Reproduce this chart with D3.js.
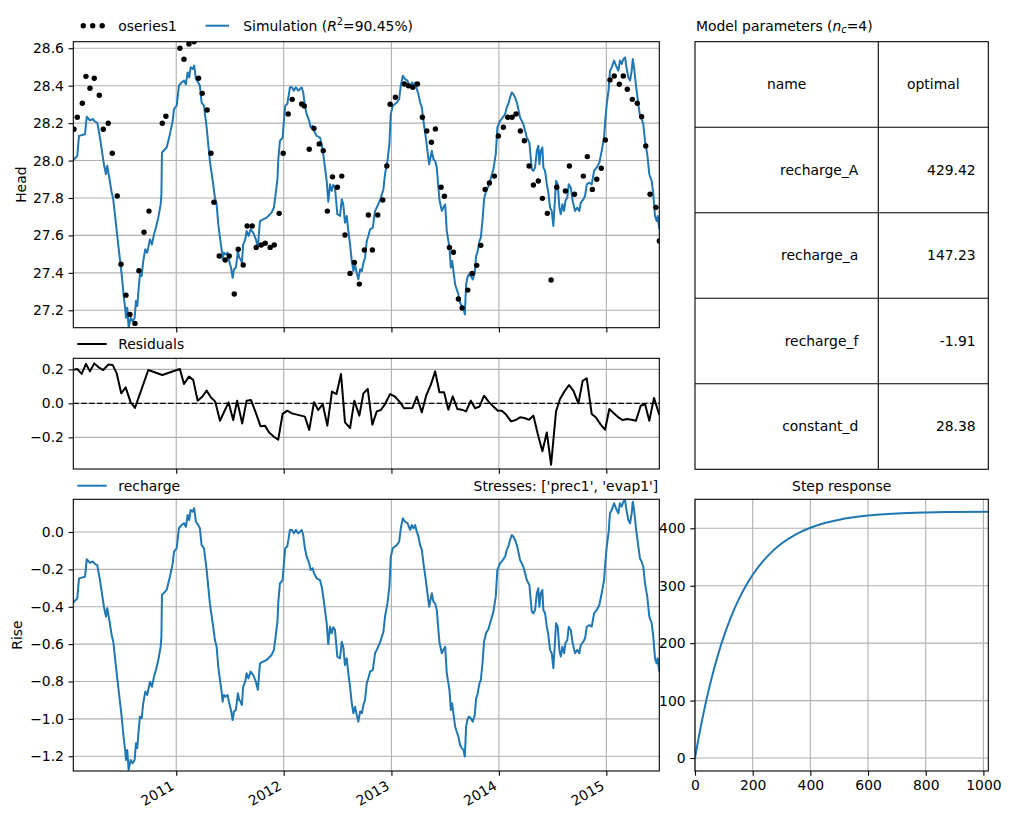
<!DOCTYPE html>
<html lang="en">
<head>
<meta charset="UTF-8">
<title>Pastas model results</title>
<script src="https://d3js.org/d3.v7.min.js"></script>
<style>
  body { margin: 0; background: #fff; }
  svg { display: block; font-family: 'DejaVu Sans', sans-serif; }
</style>
</head>
<body>
<div id="chart"></div>
<script>
// ---- data ----
const constantD = 28.38;

// observed heads [decimal year, head]
const observations = [
  [2010.048,28.167],[2010.079,28.231],[2010.126,28.306],[2010.160,28.450],[2010.197,28.386],[2010.237,28.440],
  [2010.284,28.349],[2010.321,28.167],[2010.367,28.199],[2010.405,28.039],[2010.451,27.811],[2010.486,27.446],
  [2010.532,27.281],[2010.569,27.178],[2010.616,27.130],[2010.653,27.411],[2010.700,27.617],[2010.746,27.730],
  [2010.870,28.199],[2010.904,28.237],[2011.034,28.600],[2011.072,28.541],[2011.118,28.623],[2011.165,28.635],
  [2011.208,28.440],[2011.242,28.359],[2011.288,28.270],[2011.323,28.039],[2011.351,27.777],[2011.400,27.490],
  [2011.456,27.469],[2011.493,27.490],[2011.540,27.287],[2011.577,27.526],[2011.623,27.442],[2011.660,27.650],
  [2011.707,27.650],[2011.744,27.536],[2011.791,27.549],[2011.828,27.558],[2011.874,27.536],[2011.912,27.549],
  [2011.958,27.718],[2011.995,28.039],[2012.042,28.249],[2012.079,28.327],[2012.167,28.302],[2012.191,28.292],
  [2012.237,28.060],[2012.281,28.172],[2012.330,28.089],[2012.367,28.053],[2012.405,27.730],[2012.453,27.913],
  [2012.498,27.857],[2012.539,27.917],[2012.569,27.602],[2012.616,27.397],[2012.656,27.456],[2012.702,27.340],
  [2012.749,27.522],[2012.786,27.709],[2012.823,27.522],[2012.873,27.709],[2012.920,27.789],[2012.957,27.971],
  [2012.988,28.301],[2013.037,28.338],[2013.121,28.409],[2013.158,28.399],[2013.199,28.392],[2013.242,28.409],
  [2013.288,28.231],[2013.329,28.158],[2013.372,28.098],[2013.409,28.169],[2013.462,27.857],[2013.493,27.809],
  [2013.540,27.536],[2013.577,27.510],[2013.623,27.260],[2013.658,27.212],[2013.711,27.308],[2013.751,27.397],
  [2013.794,27.440],[2013.832,27.547],[2013.872,27.846],[2013.912,27.880],[2013.958,27.917],[2013.995,28.131],
  [2014.042,28.178],[2014.083,28.231],[2014.123,28.231],[2014.160,28.249],[2014.200,28.158],[2014.237,28.106],
  [2014.281,27.971],[2014.321,27.869],[2014.367,27.891],[2014.405,27.798],[2014.451,27.718],[2014.486,27.362],
  [2014.539,27.857],[2014.619,27.837],[2014.656,27.971],[2014.704,27.820],[2014.786,27.917],[2014.823,28.021],
  [2014.870,27.846],[2014.911,27.900],[2014.953,27.959],[2014.991,28.110],[2015.034,28.431],[2015.074,28.452],
  [2015.121,28.408],[2015.158,28.452],[2015.195,28.381],[2015.242,28.327],[2015.288,28.306],[2015.329,28.234],
  [2015.367,28.078],[2015.407,27.820],[2015.462,27.750],[2015.493,27.570]
];

// recharge contribution [decimal year, rise]
const recharge = [
  [2010.042,-0.378],[2010.079,-0.355],[2010.095,-0.248],[2010.151,-0.239],[2010.167,-0.146],[2010.197,-0.165],
  [2010.225,-0.158],[2010.244,-0.172],[2010.265,-0.177],[2010.290,-0.257],[2010.327,-0.400],[2010.346,-0.453],
  [2010.358,-0.408],[2010.377,-0.471],[2010.399,-0.551],[2010.414,-0.587],[2010.439,-0.720],[2010.460,-0.828],
  [2010.492,-0.988],[2010.513,-1.113],[2010.526,-1.176],[2010.532,-1.220],[2010.544,-1.166],[2010.557,-1.273],
  [2010.576,-1.220],[2010.594,-1.238],[2010.613,-1.220],[2010.625,-1.131],[2010.637,-1.157],[2010.647,-1.086],
  [2010.662,-0.988],[2010.678,-0.997],[2010.693,-0.917],[2010.712,-0.854],[2010.730,-0.872],[2010.755,-0.801],
  [2010.774,-0.828],[2010.793,-0.774],[2010.811,-0.738],[2010.833,-0.685],[2010.855,-0.614],[2010.862,-0.560],
  [2010.867,-0.337],[2010.911,-0.310],[2010.941,-0.239],[2010.967,-0.168],[2010.979,-0.105],[2011.004,-0.087],
  [2011.025,0.020],[2011.050,0.037],[2011.072,0.047],[2011.090,0.028],[2011.106,0.091],[2011.121,0.064],
  [2011.134,0.118],[2011.153,0.109],[2011.167,0.127],[2011.183,0.055],[2011.205,0.037],[2011.220,0.020],
  [2011.236,-0.070],[2011.258,-0.087],[2011.283,-0.203],[2011.313,-0.382],[2011.344,-0.507],[2011.360,-0.578],
  [2011.376,-0.614],[2011.391,-0.720],[2011.407,-0.792],[2011.422,-0.854],[2011.432,-0.908],[2011.444,-0.872],
  [2011.462,-0.881],[2011.478,-0.872],[2011.493,-0.917],[2011.509,-0.952],[2011.525,-1.006],[2011.537,-0.961],
  [2011.555,-0.952],[2011.574,-0.863],[2011.586,-0.899],[2011.599,-0.908],[2011.611,-0.926],[2011.623,-0.828],
  [2011.642,-0.801],[2011.655,-0.756],[2011.673,-0.783],[2011.692,-0.747],[2011.716,-0.765],[2011.741,-0.801],
  [2011.760,-0.845],[2011.779,-0.703],[2011.809,-0.694],[2011.841,-0.685],[2011.887,-0.658],[2011.909,-0.631],
  [2011.927,-0.551],[2011.943,-0.471],[2011.949,-0.382],[2011.965,-0.275],[2011.990,-0.257],[2012.002,-0.168],
  [2012.014,-0.087],[2012.033,-0.078],[2012.046,-0.034],[2012.058,0.011],[2012.077,0.011],[2012.095,-0.007],
  [2012.113,0.011],[2012.135,-0.007],[2012.151,0.002],[2012.167,0.011],[2012.181,-0.016],[2012.197,-0.087],
  [2012.213,-0.132],[2012.237,-0.168],[2012.250,-0.203],[2012.269,-0.194],[2012.281,-0.221],[2012.306,-0.248],
  [2012.337,-0.257],[2012.353,-0.293],[2012.367,-0.346],[2012.383,-0.417],[2012.399,-0.488],[2012.414,-0.600],
  [2012.430,-0.507],[2012.446,-0.542],[2012.460,-0.510],[2012.476,-0.524],[2012.498,-0.667],[2012.523,-0.676],
  [2012.539,-0.587],[2012.553,-0.614],[2012.569,-0.712],[2012.585,-0.676],[2012.600,-0.756],[2012.616,-0.828],
  [2012.632,-0.917],[2012.647,-0.970],[2012.662,-0.935],[2012.678,-0.979],[2012.693,-1.015],[2012.709,-0.961],
  [2012.725,-0.970],[2012.740,-0.926],[2012.755,-0.899],[2012.771,-0.810],[2012.786,-0.783],[2012.802,-0.747],
  [2012.827,-0.738],[2012.848,-0.649],[2012.864,-0.631],[2012.895,-0.590],[2012.926,-0.533],[2012.941,-0.450],
  [2012.963,-0.382],[2012.981,-0.293],[2012.994,-0.132],[2013.013,-0.087],[2013.050,-0.070],[2013.072,-0.052],
  [2013.087,0.020],[2013.106,0.073],[2013.127,0.055],[2013.149,0.047],[2013.174,0.011],[2013.190,0.037],
  [2013.205,0.020],[2013.220,0.037],[2013.236,0.002],[2013.251,-0.025],[2013.267,-0.070],[2013.283,-0.096],
  [2013.298,-0.168],[2013.320,-0.257],[2013.339,-0.346],[2013.351,-0.400],[2013.360,-0.373],[2013.376,-0.328],
  [2013.391,-0.373],[2013.407,-0.382],[2013.422,-0.417],[2013.437,-0.524],[2013.447,-0.590],[2013.469,-0.649],
  [2013.484,-0.631],[2013.500,-0.614],[2013.515,-0.756],[2013.540,-0.845],[2013.553,-0.952],[2013.565,-0.917],
  [2013.577,-0.970],[2013.593,-1.042],[2013.608,-1.069],[2013.623,-1.095],[2013.639,-1.140],[2013.655,-1.157],
  [2013.670,-1.166],[2013.683,-1.202],[2013.695,-1.042],[2013.707,-1.006],[2013.720,-0.988],[2013.739,-0.997],
  [2013.757,-1.015],[2013.776,-0.979],[2013.788,-0.890],[2013.800,-0.872],[2013.819,-0.810],[2013.832,-0.792],
  [2013.850,-0.685],[2013.862,-0.587],[2013.881,-0.540],[2013.902,-0.520],[2013.925,-0.475],[2013.949,-0.426],
  [2013.971,-0.346],[2013.986,-0.203],[2014.011,-0.168],[2014.036,-0.150],[2014.058,-0.132],[2014.073,-0.096],
  [2014.088,-0.078],[2014.104,-0.043],[2014.120,-0.016],[2014.135,-0.025],[2014.151,-0.043],[2014.167,-0.070],
  [2014.181,-0.105],[2014.197,-0.150],[2014.213,-0.168],[2014.228,-0.186],[2014.260,-0.257],[2014.284,-0.284],
  [2014.306,-0.426],[2014.321,-0.435],[2014.337,-0.417],[2014.353,-0.328],[2014.367,-0.301],[2014.377,-0.400],
  [2014.390,-0.328],[2014.405,-0.310],[2014.414,-0.417],[2014.430,-0.435],[2014.446,-0.507],[2014.460,-0.550],
  [2014.476,-0.631],[2014.492,-0.649],[2014.507,-0.729],[2014.523,-0.578],[2014.532,-0.488],[2014.548,-0.507],
  [2014.563,-0.631],[2014.576,-0.667],[2014.591,-0.614],[2014.607,-0.649],[2014.619,-0.596],[2014.637,-0.578],
  [2014.650,-0.507],[2014.669,-0.524],[2014.687,-0.596],[2014.709,-0.649],[2014.730,-0.631],[2014.749,-0.649],
  [2014.762,-0.605],[2014.786,-0.587],[2014.802,-0.569],[2014.818,-0.507],[2014.842,-0.498],[2014.864,-0.507],
  [2014.886,-0.435],[2014.911,-0.417],[2014.935,-0.391],[2014.957,-0.328],[2014.979,-0.257],[2014.991,-0.159],
  [2015.004,-0.078],[2015.022,0.002],[2015.034,0.100],[2015.050,0.118],[2015.072,0.154],[2015.090,0.127],
  [2015.112,0.100],[2015.127,0.154],[2015.143,0.136],[2015.158,0.162],[2015.174,0.171],[2015.190,0.109],
  [2015.205,0.064],[2015.221,0.047],[2015.236,0.100],[2015.246,0.162],[2015.258,0.118],[2015.276,0.020],
  [2015.298,-0.078],[2015.313,-0.141],[2015.329,-0.159],[2015.344,-0.186],[2015.360,-0.275],[2015.381,-0.346],
  [2015.400,-0.453],[2015.422,-0.488],[2015.437,-0.560],[2015.453,-0.676],[2015.468,-0.703],[2015.478,-0.676],
  [2015.493,-0.747]
];

// residuals [decimal year, residual]
const residuals = [
  [2010.042,0.197],[2010.079,0.202],[2010.120,0.173],[2010.160,0.232],[2010.197,0.188],[2010.237,0.235],
  [2010.278,0.212],[2010.321,0.196],[2010.367,0.228],[2010.408,0.226],[2010.446,0.176],[2010.488,0.059],
  [2010.529,0.094],[2010.576,0.006],[2010.616,-0.027],[2010.740,0.196],[2010.870,0.167],[2011.034,0.202],
  [2011.072,0.114],[2011.118,0.157],[2011.158,0.138],[2011.199,0.016],[2011.242,0.039],[2011.283,0.075],
  [2011.323,0.035],[2011.363,0.010],[2011.407,-0.102],[2011.487,0.006],[2011.530,-0.098],[2011.567,0.016],
  [2011.614,-0.118],[2011.655,0.016],[2011.695,0.020],[2011.741,-0.056],[2011.785,-0.135],[2011.825,-0.131],
  [2011.865,-0.171],[2011.909,-0.196],[2011.949,-0.214],[2011.990,-0.062],[2012.033,-0.043],[2012.076,-0.059],
  [2012.197,-0.078],[2012.237,-0.157],[2012.281,0.006],[2012.321,-0.039],[2012.362,-0.004],[2012.405,-0.131],
  [2012.448,0.069],[2012.490,0.055],[2012.532,0.173],[2012.569,-0.112],[2012.616,-0.145],[2012.656,0.016],
  [2012.702,-0.072],[2012.740,0.059],[2012.780,0.085],[2012.823,-0.125],[2012.864,-0.047],[2012.901,-0.039],
  [2012.941,-0.004],[2012.988,0.055],[2013.034,0.039],[2013.081,0.006],[2013.118,-0.029],[2013.195,-0.027],
  [2013.236,0.039],[2013.283,-0.053],[2013.323,0.045],[2013.367,0.110],[2013.407,0.188],[2013.447,0.065],
  [2013.490,0.065],[2013.530,-0.037],[2013.571,0.041],[2013.614,-0.033],[2013.655,-0.037],[2013.695,-0.047],
  [2013.739,0.016],[2013.779,-0.029],[2013.819,-0.019],[2013.862,0.045],[2013.902,0.012],[2013.949,-0.019],
  [2013.990,-0.043],[2014.027,-0.043],[2014.067,-0.066],[2014.113,-0.106],[2014.157,-0.098],[2014.197,-0.082],
  [2014.237,-0.086],[2014.281,-0.096],[2014.321,-0.072],[2014.362,-0.180],[2014.405,-0.282],[2014.446,-0.171],
  [2014.486,-0.361],[2014.532,-0.047],[2014.569,0.026],[2014.609,0.069],[2014.653,0.108],[2014.693,0.075],
  [2014.740,0.000],[2014.780,0.133],[2014.818,0.147],[2014.864,-0.063],[2014.901,-0.082],[2014.948,-0.125],
  [2014.988,-0.155],[2015.028,-0.033],[2015.072,-0.059],[2015.112,-0.082],[2015.153,-0.098],[2015.195,-0.092],
  [2015.236,-0.096],[2015.276,-0.102],[2015.320,-0.014],[2015.360,-0.004],[2015.400,-0.102],[2015.444,0.032],
  [2015.493,-0.068]
];

// step response [days, response]
const stepDays = [0, 20, 40, 60, 80, 100, 125, 150, 175, 200, 250, 300, 350, 400, 450, 500, 600, 700, 800, 900, 1017];
const stepVals = [0, 54.5, 102.2, 143.7, 180.0, 211.7, 245.7, 274.4, 298.6, 319.0, 350.8, 373.5, 389.6, 401.0, 409.2, 415.0, 422.1, 425.7, 427.5, 428.5, 429.0];

const paramNames = ["recharge_A", "recharge_a", "recharge_f", "constant_d"];
const paramOptimal = ["429.42", "147.23", "-1.91", "28.38"];

const yearTicks = [2011, 2012, 2013, 2014, 2015];
const headTicks = [27.2, 27.4, 27.6, 27.8, 28.0, 28.2, 28.4, 28.6];
const residTicks = [-0.2, 0.0, 0.2];
const riseTicks = [-1.2, -1.0, -0.8, -0.6, -0.4, -0.2, 0.0];
const stepXTicks = [0, 200, 400, 600, 800, 1000];
const stepYTicks = [0, 100, 200, 300, 400];

// simulated head = constant + recharge contribution
const simulation = recharge.map(([t, v]) => [t, constantD + v]);

// ---- layout ----
const blue = "#1f77b4", gridCol = "#b0b0b0", fs = 13.9;
const L = 73.3, R = 659.3;

const toDate = t => {
  const y = Math.floor(t);
  const a = Date.UTC(y, 0, 1), b = Date.UTC(y + 1, 0, 1);
  return new Date(a + (t - y) * (b - a));
};

const svg = d3.select("#chart").append("svg")
  .attr("width", 1010).attr("height", 820);

const x = d3.scaleUtc()
  .domain([toDate(2010.042), toDate(2015.493)])
  .range([L, R]);

let clipCount = 0;
function panel(left, right, top, bottom, xs, ys, xTickVals, yTickVals) {
  const g = svg.append("g");
  const id = "clip" + (clipCount++);
  svg.append("clipPath").attr("id", id).append("rect")
    .attr("x", left).attr("y", top).attr("width", right - left).attr("height", bottom - top);

  const grid = g.append("g").attr("stroke", gridCol).attr("stroke-width", 1.1);
  grid.selectAll(".gx").data(xTickVals).join("line")
    .attr("x1", d => xs(d)).attr("x2", d => xs(d))
    .attr("y1", top).attr("y2", bottom);
  grid.selectAll(".gy").data(yTickVals).join("line")
    .attr("x1", left).attr("x2", right)
    .attr("y1", d => ys(d)).attr("y2", d => ys(d));

  const data = g.append("g").attr("clip-path", `url(#${id})`);
  const axes = g.append("g");
  return { g, data, axes, left, right, top, bottom };
}

function styleAxis(sel) {
  sel.attr("font-family", "DejaVu Sans").attr("font-size", fs);
  sel.select(".domain").remove();
  sel.selectAll(".tick line").attr("stroke-width", 1.1);
  sel.selectAll(".tick text").attr("fill", "#000");
}

function spines(p) {
  p.axes.append("rect")
    .attr("x", p.left).attr("y", p.top)
    .attr("width", p.right - p.left).attr("height", p.bottom - p.top)
    .attr("fill", "none").attr("stroke", "#000").attr("stroke-width", 1.1);
}

function timeAxis(p, labels) {
  const ax = d3.axisBottom(x)
    .tickValues(yearTicks.map(y => toDate(y)))
    .tickSize(4.7).tickPadding(4.7)
    .tickFormat(labels ? d3.utcFormat("%Y") : () => "");
  const a = p.axes.append("g").attr("transform", `translate(0,${p.bottom})`).call(ax).call(styleAxis);
  if (labels) {
    a.selectAll(".tick text")
      .attr("x", 0).attr("y", 0).attr("dy", 0)
      .attr("text-anchor", "end")
      .attr("transform", "translate(-1.5,17.5) rotate(-30)");
  }
}

function yAxis(p, ys, ticks, fmt) {
  p.axes.append("g").attr("transform", `translate(${p.left},0)`)
    .call(d3.axisLeft(ys).tickValues(ticks).tickSize(4.7).tickPadding(4.7).tickFormat(fmt))
    .call(styleAxis);
}

const f1 = d3.format(".1f");

// ---- head panel ----
const yHead = d3.scaleLinear().domain([27.107, 28.635]).range([327.7, 41.7]);
const pHead = panel(L, R, 41.7, 327.7, x, yHead, yearTicks.map(toDate), headTicks);
pHead.data.append("path")
  .datum(simulation)
  .attr("fill", "none").attr("stroke", blue).attr("stroke-width", 2)
  .attr("stroke-linejoin", "round")
  .attr("d", d3.line().x(d => x(toDate(d[0]))).y(d => yHead(d[1])));
pHead.data.selectAll("circle").data(observations).join("circle")
  .attr("cx", d => x(toDate(d[0]))).attr("cy", d => yHead(d[1]))
  .attr("r", 2.7).attr("fill", "#000");
spines(pHead);
timeAxis(pHead, false);
yAxis(pHead, yHead, headTicks, f1);
svg.append("text").attr("transform", "translate(25.5,184.7) rotate(-90)")
  .attr("text-anchor", "middle").attr("font-size", fs).text("Head");

// legend for head panel
const lg = svg.append("g").attr("font-size", fs);
lg.selectAll("circle").data([83.3, 92.7, 102.2]).join("circle")
  .attr("cx", d => d).attr("cy", 25.7).attr("r", 2.7).attr("fill", "#000");
lg.append("text").attr("x", 118.3).attr("y", 30.6).text("oseries1");
lg.append("line").attr("x1", 205.5).attr("x2", 229).attr("y1", 25.7).attr("y2", 25.7)
  .attr("stroke", blue).attr("stroke-width", 2);
const simLabel = lg.append("text").attr("x", 243.3).attr("y", 30.6);
simLabel.append("tspan").text("Simulation (");
simLabel.append("tspan").attr("font-style", "italic").text("R");
simLabel.append("tspan").attr("font-size", 9.8).attr("dy", -5.8).text("2");
simLabel.append("tspan").attr("dy", 5.8).text("=90.45%)");

// ---- residuals panel ----
const yRes = d3.scaleLinear().domain([-0.386, 0.265]).range([469, 358.3]);
const pRes = panel(L, R, 358.3, 469, x, yRes, yearTicks.map(toDate), residTicks);
pRes.data.append("line")
  .attr("x1", L).attr("x2", R).attr("y1", yRes(0)).attr("y2", yRes(0))
  .attr("stroke", "#000").attr("stroke-width", 1.1).attr("stroke-dasharray", "5.5,2.4");
pRes.data.append("path")
  .datum(residuals)
  .attr("fill", "none").attr("stroke", "#000").attr("stroke-width", 2)
  .attr("stroke-linejoin", "round")
  .attr("d", d3.line().x(d => x(toDate(d[0]))).y(d => yRes(d[1])));
spines(pRes);
timeAxis(pRes, false);
yAxis(pRes, yRes, residTicks, f1);
const lgRes = svg.append("g").attr("font-size", fs);
lgRes.append("line").attr("x1", 77.3).attr("x2", 106.7).attr("y1", 344).attr("y2", 344)
  .attr("stroke", "#000").attr("stroke-width", 2);
lgRes.append("text").attr("x", 118.3).attr("y", 348.8).text("Residuals");

// ---- recharge panel ----
const yRise = d3.scaleLinear().domain([-1.279, 0.175]).range([771, 499.3]);
const pRise = panel(L, R, 499.3, 771, x, yRise, yearTicks.map(toDate), riseTicks);
pRise.data.append("path")
  .datum(recharge)
  .attr("fill", "none").attr("stroke", blue).attr("stroke-width", 2)
  .attr("stroke-linejoin", "round")
  .attr("d", d3.line().x(d => x(toDate(d[0]))).y(d => yRise(d[1])));
spines(pRise);
timeAxis(pRise, true);
yAxis(pRise, yRise, riseTicks, f1);
svg.append("text").attr("transform", "translate(21.7,635) rotate(-90)")
  .attr("text-anchor", "middle").attr("font-size", fs).text("Rise");
const lgRise = svg.append("g").attr("font-size", fs);
lgRise.append("line").attr("x1", 77.3).attr("x2", 106.7).attr("y1", 485.7).attr("y2", 485.7)
  .attr("stroke", blue).attr("stroke-width", 2);
lgRise.append("text").attr("x", 118.3).attr("y", 490.5).text("recharge");
lgRise.append("text").attr("x", 658.3).attr("y", 490.5).attr("text-anchor", "end")
  .text("Stresses: ['prec1', 'evap1']");

// ---- parameter table ----
const tL = 695, tR = 988.3, tDiv = 878.3;
const rows = d3.scaleBand().domain(["header", ...paramNames]).range([41.7, 469.3]);
const tbl = svg.append("g").attr("font-size", fs);
tbl.append("text").attr("x", 696).attr("y", 30.6)
  .call(t => {
    t.append("tspan").text("Model parameters (");
    t.append("tspan").attr("font-style", "italic").text("n");
    t.append("tspan").attr("font-style", "italic").attr("font-size", 9.8).attr("dy", 2.6).text("c");
    t.append("tspan").attr("dy", -2.6).text("=4)");
  });
tbl.selectAll(".hl").data(rows.domain().slice(1)).join("line")
  .attr("x1", tL).attr("x2", tR)
  .attr("y1", d => rows(d)).attr("y2", d => rows(d))
  .attr("stroke", "#000").attr("stroke-width", 1.1);
tbl.append("line").attr("x1", tDiv).attr("x2", tDiv).attr("y1", 41.7).attr("y2", 469.3)
  .attr("stroke", "#000").attr("stroke-width", 1.1);
tbl.append("rect").attr("x", tL).attr("y", 41.7).attr("width", tR - tL).attr("height", 469.3 - 41.7)
  .attr("fill", "none").attr("stroke", "#000").attr("stroke-width", 1.1);
const rowMid = d => rows(d) + rows.bandwidth() / 2;
tbl.append("text").attr("x", (tL + tDiv) / 2).attr("y", rowMid("header")).attr("dy", "0.35em")
  .attr("text-anchor", "middle").text("name");
tbl.append("text").attr("x", (tDiv + tR) / 2).attr("y", rowMid("header")).attr("dy", "0.35em")
  .attr("text-anchor", "middle").text("optimal");
tbl.selectAll(".pn").data(paramNames).join("text")
  .attr("x", tDiv - 20).attr("y", d => rowMid(d)).attr("dy", "0.35em")
  .attr("text-anchor", "end").text(d => d);
tbl.selectAll(".pv").data(paramNames.map((n, i) => [n, paramOptimal[i]])).join("text")
  .attr("x", tR - 12.6).attr("y", d => rowMid(d[0])).attr("dy", "0.35em")
  .attr("text-anchor", "end").text(d => d[1]);

// ---- step response ----
const xs = d3.scaleLinear().domain([0, 1017]).range([695, 988.3]);
const ys = d3.scaleLinear().domain([-22.6, 450.5]).range([771, 499.3]);
const pStep = panel(695, 988.3, 499.3, 771, xs, ys, stepXTicks, stepYTicks);
pStep.data.append("path")
  .datum(stepDays.map((t, i) => [t, stepVals[i]]))
  .attr("fill", "none").attr("stroke", blue).attr("stroke-width", 2)
  .attr("d", d3.line().curve(d3.curveMonotoneX).x(d => xs(d[0])).y(d => ys(d[1])));
spines(pStep);
pStep.axes.append("g").attr("transform", "translate(0,771)")
  .call(d3.axisBottom(xs).tickValues(stepXTicks).tickSize(4.7).tickPadding(4.7).tickFormat(d3.format("d")))
  .call(styleAxis);
pStep.axes.append("g").attr("transform", "translate(695,0)")
  .call(d3.axisLeft(ys).tickValues(stepYTicks).tickSize(4.7).tickPadding(4.7).tickFormat(d3.format("d")))
  .call(styleAxis);
svg.append("text").attr("x", (695 + 988.3) / 2).attr("y", 490.7)
  .attr("text-anchor", "middle").attr("font-size", fs).text("Step response");
</script>
</body>
</html>
